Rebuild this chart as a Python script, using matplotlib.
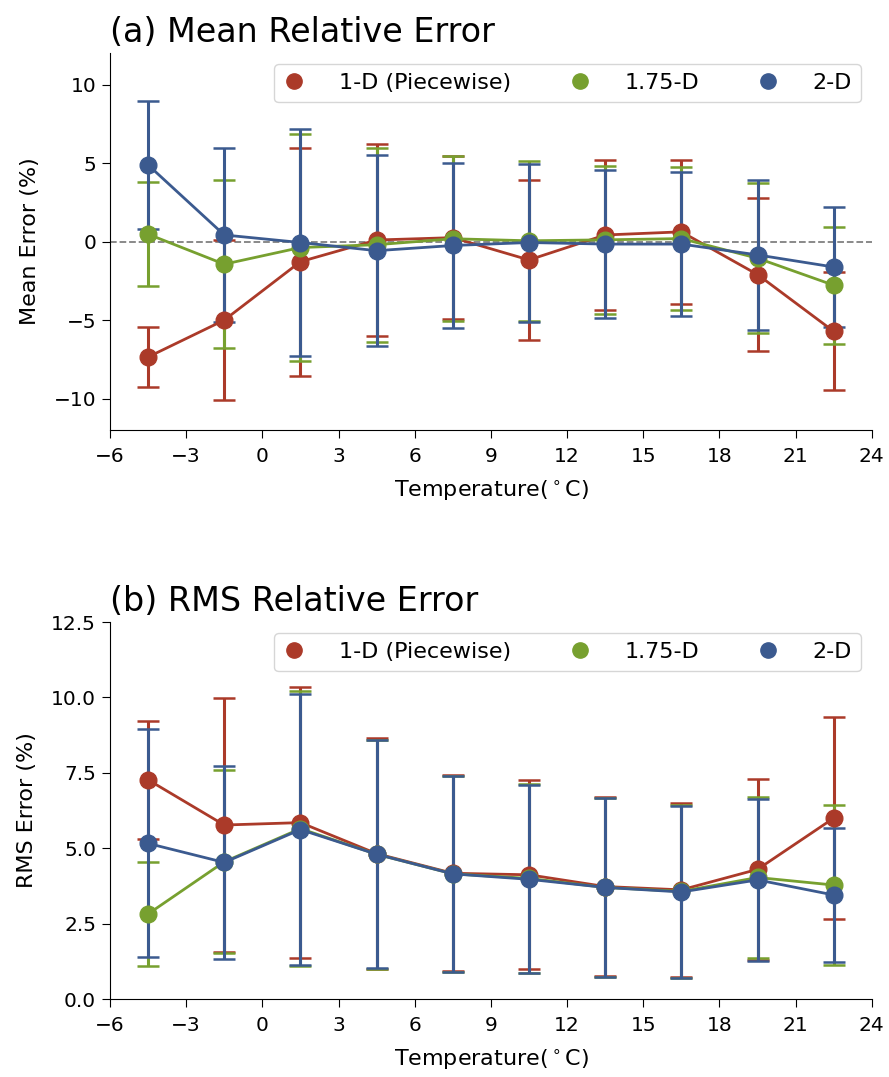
import numpy as np
import matplotlib
matplotlib.use("Agg")
import matplotlib.pyplot as plt
from matplotlib.lines import Line2D

# ------------------------------------------------------------
# data
# ------------------------------------------------------------
temps = [-4.5, -1.5, 1.5, 4.5, 7.5, 10.5, 13.5, 16.5, 19.5, 22.5]
labels = ["1-D (Piecewise)", "1.75-D", "2-D"]
colors = ["#ab3a29", "#77a02f", "#3b5a8f"]

# (a) mean relative error
mean_1d = [-7.35, -5.0, -1.28, 0.1, 0.25, -1.17, 0.42, 0.62, -2.1, -5.72]
mean_err_1d = [1.9, 5.1, 7.25, 6.1, 5.2, 5.07, 4.75, 4.57, 4.87, 3.76]
mean_175 = [0.47, -1.44, -0.38, -0.2, 0.18, 0.05, 0.11, 0.19, -1.06, -2.78]
mean_err_175 = [3.3, 5.33, 7.22, 6.17, 5.25, 5.08, 4.71, 4.54, 4.78, 3.72]
mean_2d = [4.88, 0.42, -0.06, -0.58, -0.25, -0.06, -0.16, -0.16, -0.85, -1.62]
mean_err_2d = [4.1, 5.54, 7.2, 6.1, 5.27, 5.03, 4.71, 4.56, 4.75, 3.83]

# (b) RMS relative error
rms_1d = [7.27, 5.77, 5.85, 4.82, 4.17, 4.12, 3.73, 3.62, 4.3, 6.0]
rms_err_1d = [1.95, 4.2, 4.5, 3.83, 3.25, 3.13, 2.98, 2.88, 3.0, 3.35]
rms_175 = [2.82, 4.55, 5.65, 4.8, 4.15, 4.0, 3.7, 3.57, 4.03, 3.78]
rms_err_175 = [1.72, 3.03, 4.55, 3.8, 3.25, 3.13, 2.97, 2.87, 2.68, 2.65]
rms_2d = [5.16, 4.53, 5.62, 4.8, 4.15, 3.97, 3.7, 3.55, 3.95, 3.45]
rms_err_2d = [3.78, 3.2, 4.5, 3.78, 3.25, 3.12, 2.96, 2.85, 2.68, 2.23]

xticks = [-6, -3, 0, 3, 6, 9, 12, 15, 18, 21, 24]


def draw_panel(ax, series, errs, title, ylabel):
    for y, e, c in zip(series, errs, colors):
        ax.errorbar(temps, y, yerr=e, color=c, marker="o", markersize=12,
                    linewidth=2, elinewidth=2.2, capsize=8, capthick=1.8)
    ax.set_title(title, loc="left", fontsize=24, pad=8)
    ax.set_ylabel(ylabel, fontsize=16, labelpad=10)
    ax.set_xlabel("Temperature($^\\circ$C)", fontsize=16, labelpad=9)
    ax.set_xlim(-6, 24)
    ax.set_xticks(xticks)
    ax.tick_params(labelsize=14.5, length=6, pad=4)
    ax.tick_params(axis="x", pad=6)
    ax.spines["top"].set_visible(False)
    ax.spines["right"].set_visible(False)
    handles = [Line2D([], [], linestyle="none", marker="o", markersize=11, color=c)
               for c in colors]
    ax.legend(handles, labels, loc="upper right", ncol=3, fontsize=16,
              handlelength=1.0, handletextpad=1.5, columnspacing=2.6,
              borderaxespad=0.5)


fig = plt.figure(figsize=(8.89, 10.77), dpi=100)
ax1 = fig.add_axes([0.1237, 0.6007, 0.857, 0.350])
ax2 = fig.add_axes([0.1237, 0.0724, 0.857, 0.350])

draw_panel(ax1, [mean_1d, mean_175, mean_2d], [mean_err_1d, mean_err_175, mean_err_2d],
           "(a) Mean Relative Error", "Mean Error (%)")
ax1.axhline(0, color="gray", linestyle="--", linewidth=1.3, zorder=0)
ax1.set_ylim(-12, 12)
ax1.set_yticks([-10, -5, 0, 5, 10])

draw_panel(ax2, [rms_1d, rms_175, rms_2d], [rms_err_1d, rms_err_175, rms_err_2d],
           "(b) RMS Relative Error", "RMS Error (%)")
ax2.set_ylim(0, 12.5)
ax2.set_yticks([0, 2.5, 5, 7.5, 10, 12.5])
ax2.yaxis.set_major_formatter(matplotlib.ticker.FormatStrFormatter("%.1f"))

fig.savefig("out.png", dpi=100)
